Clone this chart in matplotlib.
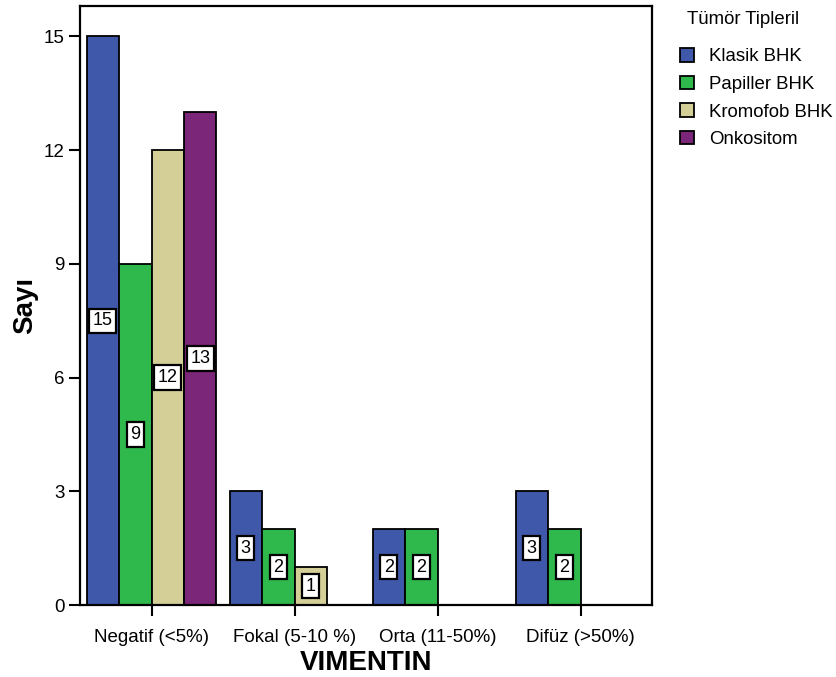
import matplotlib
matplotlib.use("Agg")
import matplotlib.pyplot as plt
import numpy as np

plt.rcParams['font.family'] = ['Liberation Sans', 'DejaVu Sans']

# categories and counts
categories = ['Negatif (<5%)', 'Fokal (5-10 %)', 'Orta (11-50%)', 'Difüz (>50%)']
series_names = ['Klasik BHK', 'Papiller BHK', 'Kromofob BHK', 'Onkositom']
klasik = [15, 3, 2, 3]
papiller = [9, 2, 2, 2]
kromofob = [12, 1, 0, 0]
onkositom = [13, 0, 0, 0]
colors = ['#3F58A9', '#2FB84B', '#D3CF97', '#7B2678']

fig = plt.figure(figsize=(8.36, 6.77), dpi=100)
ax = fig.add_axes([80 / 836, 72 / 677, 572 / 836, 599 / 677])

x = np.arange(len(categories))
w = 0.227
handles = []
for i, (vals, name, col) in enumerate(zip([klasik, papiller, kromofob, onkositom], series_names, colors)):
    vals = np.array(vals, dtype=float)
    pos = x + (i - 1.5) * w
    keep = vals > 0
    bars = ax.bar(pos[keep], vals[keep], width=w, color=col, edgecolor='black',
                  linewidth=1.3, label=name)
    ax.bar_label(bars, labels=[str(int(v)) for v in vals[keep]], label_type='center',
                 fontsize=13,
                 bbox=dict(boxstyle='square,pad=0.2', facecolor='white',
                           edgecolor='black', linewidth=1.6))
    handles.append(bars)

ax.set_xlim(-0.5, 3.5)
ax.set_ylim(0, 15.8)
ax.set_yticks([0, 3, 6, 9, 12, 15])
ax.set_xticks(x)
ax.set_xticklabels(categories)
ax.tick_params(axis='both', direction='out', length=8, width=1.5, labelsize=13.5, pad=3)
ax.tick_params(axis='x', pad=9)
for sp in ax.spines.values():
    sp.set_linewidth(1.6)

ax.set_ylabel('Sayı', fontsize=20, fontweight='bold', labelpad=4)
ax.set_xlabel('VIMENTIN', fontsize=20, fontweight='bold', labelpad=3)

# legend title placed separately to get the larger gap seen in the original
fig.text(687 / 836, 1 - 20 / 677, 'Tümör Tipleril', fontsize=13.4, ha='left', va='center')
leg = ax.legend(handles=handles, loc='upper left',
                bbox_to_anchor=(1.03, 1 - 31 / 599), frameon=False, fontsize=13.4,
                handlelength=0.75, handleheight=0.75,
                handletextpad=0.8, labelspacing=0.55, borderaxespad=0.2)

fig.savefig('out.png', dpi=100)
